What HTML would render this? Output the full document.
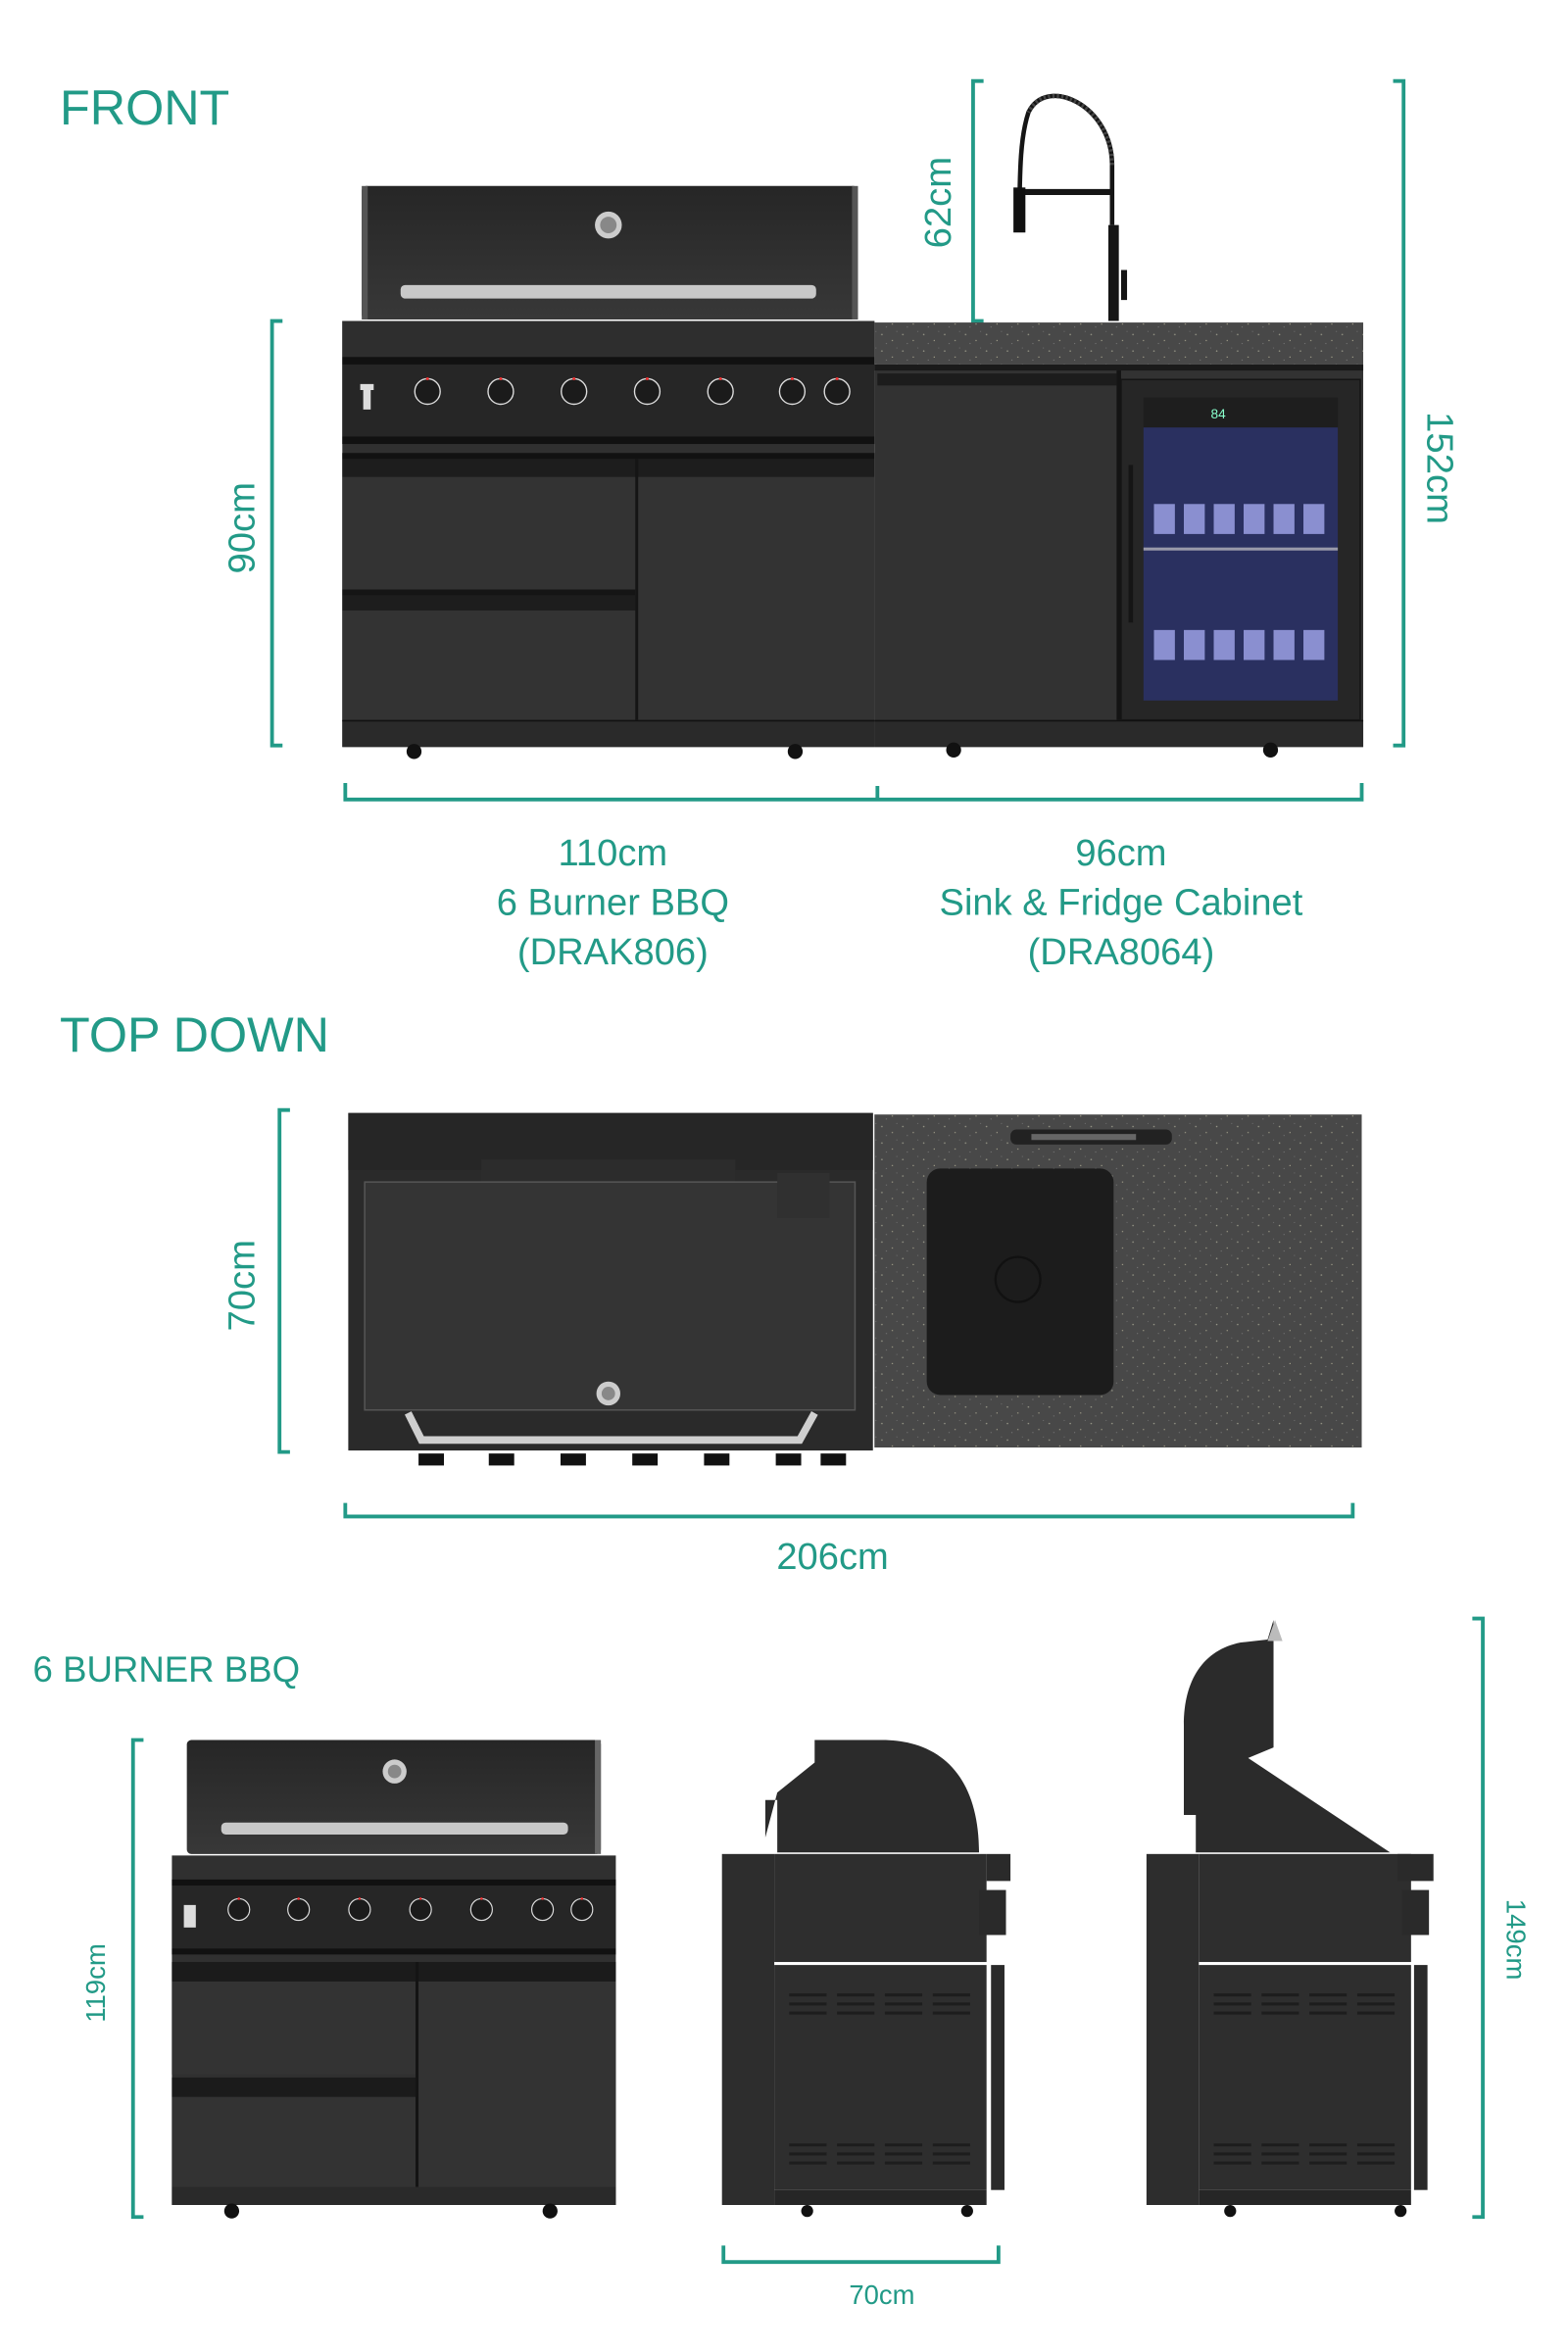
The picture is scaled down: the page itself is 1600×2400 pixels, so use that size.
<!DOCTYPE html>
<html><head><meta charset="utf-8"><style>
html,body{margin:0;padding:0;background:#fff;}
svg{display:block}
text{font-family:"Liberation Sans",sans-serif;fill:#229a87}
</style></head><body>
<svg width="1600" height="2400" viewBox="0 0 1049 1568" preserveAspectRatio="none" xmlns="http://www.w3.org/2000/svg">
<defs>
<pattern id="spk" width="14" height="11" patternUnits="userSpaceOnUse">
<rect width="14" height="11" fill="#484848"/>
<circle cx="2" cy="3" r="0.5" fill="#9a9a8a"/><circle cx="9" cy="7" r="0.4" fill="#b8b49a"/><circle cx="12" cy="1" r="0.35" fill="#777"/><circle cx="5" cy="9" r="0.35" fill="#888"/>
</pattern>
<linearGradient id="lid" x1="0" y1="0" x2="0" y2="1"><stop offset="0" stop-color="#262626"/><stop offset="1" stop-color="#383838"/></linearGradient>
<g id="knobs">
<circle cx="0" cy="0" r="8.5" fill="#1b1b1b" stroke="#ddd" stroke-width="0.9"/><circle cx="0" cy="-8.5" r="1" fill="#e33"/>
</g>
</defs>
<g stroke="#229a87" stroke-width="2.5" fill="none">
<!-- 62 -->
<path d="M658 54 H651 V214 H658"/>
<!-- 152 -->
<path d="M932 54 H939 V497 H932"/>
<!-- 90 -->
<path d="M189 214 H182 V497 H189"/>
<!-- front width -->
<path d="M231 522 V533 H911 V522 M587 524 V533"/>
<!-- 70 top -->
<path d="M194 740 H187 V968 H194"/>
<!-- 206 -->
<path d="M231 1002 V1011 H905 V1002"/>
<!-- 119 -->
<path d="M96 1160 H89 V1478 H96"/>
<!-- 149 -->
<path d="M985 1079 H992 V1478 H985"/>
<!-- 70 side -->
<path d="M484 1497 V1508 H668 V1497"/>
</g>
<text x="40" y="83" font-size="33">FRONT</text>
<text x="40" y="701" font-size="33">TOP DOWN</text>
<text x="22" y="1121" font-size="24">6 BURNER BBQ</text>
<text transform="translate(636,135) rotate(-90)" font-size="25" text-anchor="middle">62cm</text>
<text transform="translate(955,312) rotate(90)" font-size="25" text-anchor="middle">152cm</text>
<text transform="translate(170,352) rotate(-90)" font-size="25" text-anchor="middle">90cm</text>
<text transform="translate(170,857) rotate(-90)" font-size="25" text-anchor="middle">70cm</text>
<text transform="translate(70,1322) rotate(-90)" font-size="18" text-anchor="middle">119cm</text>
<text transform="translate(1008,1293) rotate(90)" font-size="18" text-anchor="middle">149cm</text>
<g font-size="25" text-anchor="middle">
<text x="410" y="577">110cm</text><text x="410" y="610">6 Burner BBQ</text><text x="410" y="643">(DRAK806)</text>
<text x="750" y="577">96cm</text><text x="750" y="610">Sink &amp; Fridge Cabinet</text><text x="750" y="643">(DRA8064)</text>
<text x="557" y="1046">206cm</text>
</g>
<text x="590" y="1536" font-size="18" text-anchor="middle">70cm</text>

<!-- FRONT BBQ -->
<rect x="242" y="124" width="332" height="89" rx="3" fill="url(#lid)"/>
<rect x="242" y="124" width="4" height="89" fill="#555"/><rect x="570" y="124" width="4" height="89" fill="#555"/>
<circle cx="407" cy="150" r="9" fill="#ccc"/><circle cx="407" cy="150" r="5.5" fill="#888"/>
<rect x="268" y="190" width="278" height="9" rx="3" fill="#c8c8c8"/>
<rect x="229" y="214" width="356" height="284" fill="#303030"/>
<rect x="229" y="214" width="356" height="24" fill="#2e2e2e"/>
<rect x="229" y="238" width="356" height="5" fill="#111"/>
<rect x="229" y="243" width="356" height="48" fill="#262626"/>
<rect x="229" y="291" width="356" height="5" fill="#111"/>
<rect x="229" y="302" width="356" height="4" fill="#111"/>
<rect x="229" y="306" width="356" height="12" fill="#1d1d1d"/>
<rect x="229" y="318" width="196" height="75" fill="#333"/>
<rect x="229" y="393" width="196" height="4" fill="#151515"/>
<rect x="229" y="397" width="196" height="10" fill="#1d1d1d"/>
<rect x="229" y="407" width="196" height="73" fill="#333"/>
<rect x="425" y="306" width="2" height="174" fill="#151515"/>
<rect x="427" y="318" width="158" height="162" fill="#333"/>
<rect x="229" y="480" width="356" height="18" fill="#2a2a2a"/>
<rect x="229" y="480" width="356" height="1" fill="#111"/>
<path d="M241 256 h9 v4 h-9z M243 259 h5 v14 h-5z" fill="#ddd"/>
<use href="#knobs" x="286" y="261"/><use href="#knobs" x="335" y="261"/><use href="#knobs" x="384" y="261"/><use href="#knobs" x="433" y="261"/><use href="#knobs" x="482" y="261"/><use href="#knobs" x="530" y="261"/><use href="#knobs" x="560" y="261"/>
<circle cx="277" cy="501" r="5" fill="#111"/><circle cx="532" cy="501" r="5" fill="#111"/>

<!-- Faucet -->
<g fill="none" stroke="#151515">
<path d="M745 214 V150" stroke-width="7"/>
<path d="M744 150 V110 C744 70 700 50 688 75 C683 90 682 110 682 152" stroke-width="3"/>
<path d="M744 110 C744 70 700 50 688 75" stroke="#444" stroke-width="3" stroke-dasharray="1.5 1.5"/>
<path d="M682 128 H745" stroke-width="4"/>
<path d="M752 180 V200" stroke-width="4"/>
</g>
<rect x="678" y="125" width="8" height="30" fill="#111"/>
<!-- sink cabinet front -->
<rect x="585" y="215" width="327" height="28" fill="url(#spk)"/>
<rect x="585" y="243" width="327" height="255" fill="#323232"/>
<rect x="585" y="243" width="327" height="4" fill="#1a1a1a"/>
<rect x="587" y="249" width="160" height="8" fill="#1c1c1c"/>
<rect x="747" y="247" width="3" height="233" fill="#141414"/>
<rect x="750" y="253" width="160" height="227" fill="#262626" stroke="#151515"/>
<rect x="765" y="265" width="130" height="20" fill="#1e1e1e"/>
<text x="810" y="279" font-size="9" style="fill:#8fc">84</text>
<rect x="765" y="285" width="130" height="182" fill="#2a3060"/>
<rect x="765" y="365" width="130" height="2" fill="#99a"/>
<g fill="#8a8fd0">
<rect x="772" y="336" width="14" height="20"/><rect x="792" y="336" width="14" height="20"/><rect x="812" y="336" width="14" height="20"/><rect x="832" y="336" width="14" height="20"/><rect x="852" y="336" width="14" height="20"/><rect x="872" y="336" width="14" height="20"/>
<rect x="772" y="420" width="14" height="20"/><rect x="792" y="420" width="14" height="20"/><rect x="812" y="420" width="14" height="20"/><rect x="832" y="420" width="14" height="20"/><rect x="852" y="420" width="14" height="20"/><rect x="872" y="420" width="14" height="20"/>
</g>
<rect x="755" y="310" width="3" height="105" fill="#151515"/>
<rect x="585" y="480" width="327" height="18" fill="#2a2a2a"/>
<rect x="585" y="480" width="327" height="1" fill="#111"/>
<circle cx="638" cy="500" r="5" fill="#111"/><circle cx="850" cy="500" r="5" fill="#111"/>

<!-- TOP DOWN -->
<rect x="233" y="742" width="351" height="225" fill="#2a2a2a"/>
<rect x="233" y="742" width="351" height="38" fill="#262626"/>
<rect x="322" y="773" width="170" height="18" fill="#2c2c2c"/>
<rect x="244" y="788" width="328" height="152" fill="#343434" stroke="#555"/>
<rect x="520" y="782" width="35" height="30" fill="#303030"/>
<circle cx="407" cy="929" r="8" fill="#ccc"/><circle cx="407" cy="929" r="4.5" fill="#888"/>
<path d="M273 942 L282 960 H535 L545 942" fill="none" stroke="#cfcfcf" stroke-width="5"/>
<g fill="#111"><rect x="280" y="969" width="17" height="8"/><rect x="327" y="969" width="17" height="8"/><rect x="375" y="969" width="17" height="8"/><rect x="423" y="969" width="17" height="8"/><rect x="471" y="969" width="17" height="8"/><rect x="519" y="969" width="17" height="8"/><rect x="549" y="969" width="17" height="8"/></g>
<rect x="585" y="743" width="326" height="222" fill="url(#spk)"/>
<rect x="620" y="779" width="125" height="151" rx="9" fill="#1c1c1c"/>
<circle cx="681" cy="853" r="15" fill="none" stroke="#111" stroke-width="1.5"/>
<rect x="676" y="753" width="108" height="10" rx="4" fill="#222"/>
<rect x="690" y="756" width="70" height="4" fill="#666"/>

<!-- SMALL BBQ FRONT -->
<rect x="125" y="1160" width="277" height="76" rx="3" fill="url(#lid)"/>
<rect x="398" y="1160" width="4" height="76" fill="#666"/>
<circle cx="264" cy="1181" r="8" fill="#ccc"/><circle cx="264" cy="1181" r="4.5" fill="#888"/>
<rect x="148" y="1215" width="232" height="8" rx="3" fill="#c8c8c8"/>
<rect x="115" y="1237" width="297" height="233" fill="#303030"/>
<rect x="115" y="1253" width="297" height="4" fill="#111"/>
<rect x="115" y="1257" width="297" height="42" fill="#262626"/>
<rect x="115" y="1299" width="297" height="4" fill="#111"/>
<rect x="115" y="1308" width="297" height="13" fill="#1b1b1b"/>
<rect x="115" y="1321" width="163" height="62" fill="#333"/>
<rect x="115" y="1385" width="163" height="13" fill="#1b1b1b"/>
<rect x="115" y="1398" width="163" height="60" fill="#333"/>
<rect x="278" y="1308" width="2" height="150" fill="#141414"/>
<rect x="280" y="1321" width="132" height="137" fill="#333"/>
<rect x="115" y="1458" width="297" height="12" fill="#2a2a2a"/>
<rect x="123" y="1270" width="8" height="15" fill="#ddd"/>
<g transform="translate(0,1273) scale(0.85)">
<use href="#knobs" x="188" y="0"/><use href="#knobs" x="235" y="0"/><use href="#knobs" x="283" y="0"/><use href="#knobs" x="331" y="0"/><use href="#knobs" x="379" y="0"/><use href="#knobs" x="427" y="0"/><use href="#knobs" x="458" y="0"/>
</g>
<circle cx="155" cy="1474" r="5" fill="#111"/><circle cx="368" cy="1474" r="5" fill="#111"/>

<!-- SIDE VIEW 1 -->
<path d="M545 1160 H590 C630 1160 655 1185 655 1235 H520 V1200 H512 V1225 L520 1195 L545 1175Z" fill="#2b2b2b"/>
<rect x="483" y="1236" width="35" height="234" fill="#2d2d2d"/>
<rect x="518" y="1236" width="142" height="72" fill="#2e2e2e"/>
<rect x="518" y="1310" width="142" height="150" fill="#2e2e2e"/>
<rect x="518" y="1460" width="142" height="10" fill="#262626"/>
<rect x="660" y="1236" width="16" height="18" fill="#2a2a2a"/><rect x="655" y="1260" width="18" height="30" fill="#2a2a2a"/>
<rect x="663" y="1310" width="9" height="150" fill="#2a2a2a"/>
<g stroke="#1d1d1d" stroke-width="2"><path d="M528 1330 h25 M528 1336 h25 M528 1342 h25 M560 1330 h25 M560 1336 h25 M560 1342 h25 M592 1330 h25 M592 1336 h25 M592 1342 h25 M624 1330 h25 M624 1336 h25 M624 1342 h25 M528 1430 h25 M528 1436 h25 M528 1442 h25 M560 1430 h25 M560 1436 h25 M560 1442 h25 M592 1430 h25 M592 1436 h25 M592 1442 h25 M624 1430 h25 M624 1436 h25 M624 1442 h25"/></g>
<circle cx="540" cy="1474" r="4" fill="#111"/><circle cx="647" cy="1474" r="4" fill="#111"/>

<!-- SIDE VIEW 2 -->
<path d="M852 1080 V1165 L835 1172 L930 1235 H800 V1210 H792 V1150 C792 1120 805 1100 830 1095 L848 1093Z" fill="#2b2b2b"/>
<path d="M848 1094 L853 1080 L858 1094Z" fill="#bbb"/>
<rect x="767" y="1236" width="35" height="234" fill="#2d2d2d"/>
<rect x="802" y="1236" width="142" height="72" fill="#2e2e2e"/>
<rect x="802" y="1310" width="142" height="150" fill="#2e2e2e"/>
<rect x="802" y="1460" width="142" height="10" fill="#262626"/>
<rect x="935" y="1236" width="24" height="18" fill="#2a2a2a"/><rect x="938" y="1260" width="18" height="30" fill="#2a2a2a"/>
<rect x="946" y="1310" width="9" height="150" fill="#2a2a2a"/>
<g stroke="#1d1d1d" stroke-width="2"><path d="M812 1330 h25 M812 1336 h25 M812 1342 h25 M844 1330 h25 M844 1336 h25 M844 1342 h25 M876 1330 h25 M876 1336 h25 M876 1342 h25 M908 1330 h25 M908 1336 h25 M908 1342 h25 M812 1430 h25 M812 1436 h25 M812 1442 h25 M844 1430 h25 M844 1436 h25 M844 1442 h25 M876 1430 h25 M876 1436 h25 M876 1442 h25 M908 1430 h25 M908 1436 h25 M908 1442 h25"/></g>
<circle cx="823" cy="1474" r="4" fill="#111"/><circle cx="937" cy="1474" r="4" fill="#111"/>
</svg>
</body></html>
